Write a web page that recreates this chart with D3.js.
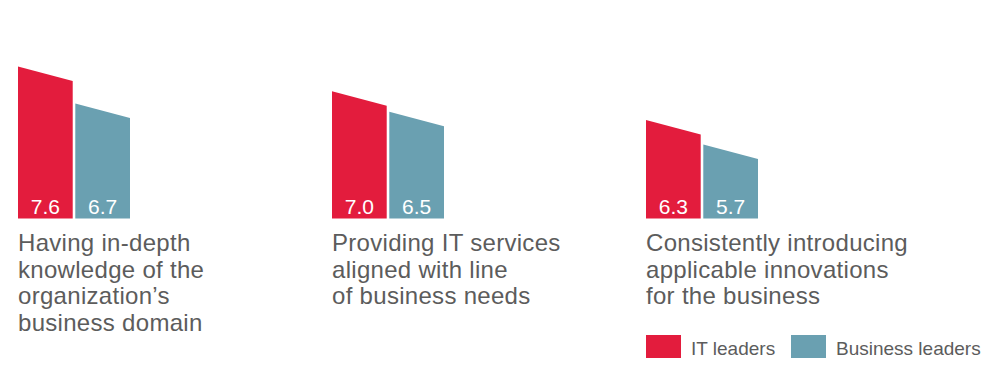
<!DOCTYPE html>
<html>
<head>
<meta charset="utf-8">
<script src="https://cdn.jsdelivr.net/npm/d3@7"></script>
<style>
  body { margin: 0; background: #fff; }
  text { font-family: "Liberation Sans", Arial, sans-serif; }
</style>
</head>
<body>
<div id="chart"></div>
<script>
// data
var categories = ["domain", "services", "innovations"];
var categoryLines = [
	["Having in-depth", "knowledge of the", "organization\u2019s", "business domain"],
	["Providing IT services", "aligned with line", "of business needs"],
	["Consistently introducing", "applicable innovations", "for the business"]
];
var seriesNames = ["IT leaders", "Business leaders"];
var itValues = [7.6, 7.0, 6.3];
var businessValues = [6.7, 6.5, 5.7];

var colors = ["#e31c3d", "#6aa0b1"];
var textColor = "#5c5c5c";

var width = 1000, height = 380;
var base = 218.5, // bottom of bars
		slant = 14.5; // how much lower the right corner of a bar top is

var svg = d3.select("#chart").append("svg")
		.attr("width", width)
		.attr("height", height);

// scales
var x0 = d3.scaleBand()
		.domain(categories)
		.range([18, 18 + 314 * categories.length]);
var x1 = d3.scaleBand()
		.domain(seriesNames)
		.range([0, 112])
		.paddingInner(0.045);
var y = d3.scaleLinear()
		.domain([3.9, 7.6])
		.range([base, 66.5]);

var data = categories.map(function(c, i) {
	return {
		cat: c,
		lines: categoryLines[i],
		values: [
			{name: seriesNames[0], value: itValues[i], color: colors[0]},
			{name: seriesNames[1], value: businessValues[i], color: colors[1]}
		]
	};
});

var groups = svg.selectAll(".group")
		.data(data)
	.enter().append("g")
		.attr("class", "group")
		.attr("transform", function(d) { return "translate(" + x0(d.cat) + ",0)"; });

// bars with slanted tops
groups.selectAll(".bar")
		.data(function(d) { return d.values; })
	.enter().append("path")
		.attr("class", "bar")
		.attr("fill", function(d) { return d.color; })
		.attr("d", function(d) {
			var xl = x1(d.name), xr = xl + x1.bandwidth();
			return "M" + xl + "," + y(d.value) +
				"L" + xr + "," + (y(d.value) + slant) +
				"L" + xr + "," + base +
				"L" + xl + "," + base + "Z";
		});

// values inside the bars
groups.selectAll(".val")
		.data(function(d) { return d.values; })
	.enter().append("text")
		.attr("class", "val")
		.attr("x", function(d) { return x1(d.name) + x1.bandwidth() / 2; })
		.attr("y", base - 4.5)
		.attr("text-anchor", "middle")
		.attr("font-size", "21px")
		.attr("fill", "#fff")
		.text(function(d) { return d.value.toFixed(1); });

// category labels
groups.append("text")
		.attr("class", "cat")
		.attr("font-size", "24px")
		.attr("letter-spacing", "0.3px")
		.attr("fill", textColor)
	.selectAll("tspan")
		.data(function(d) { return d.lines; })
	.enter().append("tspan")
		.attr("x", 0)
		.attr("y", function(d, i) { return 251 + i * 26.7; })
		.text(function(d) { return d; });

// legend
var legendX = [646, 791];
var legend = svg.selectAll(".legend")
		.data(seriesNames)
	.enter().append("g")
		.attr("class", "legend")
		.attr("transform", function(d, i) { return "translate(" + legendX[i] + ",335)"; });
legend.append("rect")
		.attr("width", 35)
		.attr("height", 23)
		.attr("fill", function(d, i) { return colors[i]; });
legend.append("text")
		.attr("x", 45)
		.attr("y", 20)
		.attr("font-size", "19px")
		.attr("fill", textColor)
		.text(function(d) { return d; });
</script>
</body>
</html>
